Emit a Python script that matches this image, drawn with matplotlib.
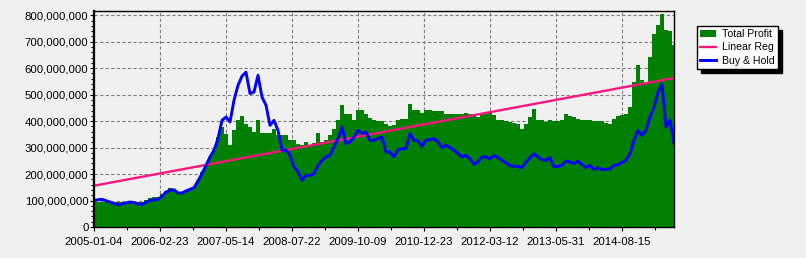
import numpy as np
import matplotlib
matplotlib.use("Agg")
import matplotlib.pyplot as plt
from matplotlib.ticker import FuncFormatter, MultipleLocator

plt.rcParams["font.family"] = ["Liberation Sans", "DejaVu Sans"]

# ---------------- data (values in millions) ----------------
tick_labels = ["2005-01-04", "2006-02-23", "2007-05-14", "2008-07-22", "2009-10-09",
               "2010-12-23", "2012-03-12", "2013-05-31", "2014-08-15"]

total_profit = [
    94.5, 94.5, 94.5, 94.5, 94.5, 94.5, 94.5, 94.5, 94.5, 94.5, 94.5, 94.5, 94.5,
    100.8, 109.6, 113.4, 113.4, 123.4, 136, 148.6, 138.5, 128.5, 132.2, 136, 141,
    151, 176, 208, 233, 264.5, 290, 340, 378, 353, 308, 365, 403, 420, 390, 378, 359,
    403, 355, 355, 355, 371, 346, 346, 346,
    330, 330, 315, 308.6, 321, 308.6, 317, 355, 321, 327.5, 346, 371.5, 403, 460, 426,
    426, 405.5, 441, 441, 428, 413, 403, 399, 399, 390,
    380, 387, 403, 407, 409, 466, 443, 441, 431, 443, 441, 438, 437, 437, 428, 428, 428,
    428, 428, 431, 426, 426, 416, 426,
    428, 434.5, 422, 405.5, 405.5, 400.5, 397, 393, 388, 369, 390, 415.6, 447, 405.5,
    405.5, 397, 403, 399, 400.5, 403, 428, 418, 416, 409, 405.5,
    405, 403, 399, 399, 399, 393, 388, 409, 418, 422, 428, 453, 548, 611, 554, 541, 642,
    730, 762, 805, 743, 740, 686,
]

buy_hold = [
    100.8, 103, 104.5, 99.5, 94.5, 88, 84.4, 86.9, 90.7, 94.5, 92, 86.9, 85.6, 93.2,
    100.8, 102, 104.5, 115.9, 132.2, 138.5, 141, 128.5, 128.5, 136, 142.3,
    148.6, 173.8, 201.5, 233, 264.5, 289.7, 333.8, 403, 415.6, 396.7, 478.6, 535, 570,
    585, 504, 510, 573, 491, 460, 384, 403, 365, 290, 290,
    271, 227, 208, 176, 195, 195, 201.5, 233, 252, 264.5, 271, 302, 334, 378, 315, 321,
    340, 365, 353, 359, 327.5, 327.5, 334, 340, 283,
    283, 264.5, 292, 296, 296, 353, 327.5, 325, 305, 327.5, 330, 334, 321, 300, 308.6,
    300, 290, 277, 264.5, 271, 258, 237, 245.6, 264.5,
    264.5, 258, 271, 262, 252, 242, 232, 229, 229, 224, 245.6, 262, 277, 264.5, 254,
    252, 262, 227, 229, 233, 249, 245.6, 239, 249, 236,
    224, 233, 217, 224, 217, 217, 220, 233, 235, 245, 252, 277, 327, 365, 346, 365, 415,
    453, 510, 539, 378, 403, 315,
]

linear_reg_ends = [156, 563]

# ---------------- layout ----------------
W, H = 806, 258
DPI = 100
bg = "#F0F0F0"
fig = plt.figure(figsize=(W / DPI, H / DPI), dpi=DPI, facecolor=bg)
ax_l, ax_r, ax_t, ax_b = 94, 674, 11, 227
ax = fig.add_axes([ax_l / W, 1 - ax_b / H, (ax_r - ax_l) / W, (ax_b - ax_t) / H])
ax.set_facecolor(bg)

fs = 8.2

days_per_tick = 290
days_per_sample = days_per_tick * 4 / 66
n = len(total_profit)
x = np.arange(n) * days_per_sample
tp = np.array(total_profit) * 1e6
bh = np.array(buy_hold) * 1e6

ax.fill_between(x, 0, tp, step="mid", color="#008000", linewidth=0, zorder=2,
                label="Total Profit")
ax.plot([x[0], x[-1]], np.array(linear_reg_ends) * 1e6, color="#FF1480", lw=1.7,
        zorder=3, label="Linear Reg")
ax.plot(x, bh, color="#0000FF", lw=2.1, zorder=4, label="Buy & Hold")

ax.set_xlim(x[0], x[-1])
ax.set_ylim(0, 816e6)

ax.set_xticks(np.arange(len(tick_labels)) * days_per_tick)
ax.set_xticklabels(tick_labels, fontsize=fs)
ax.xaxis.set_minor_locator(MultipleLocator(days_per_tick / 2))
ax.yaxis.set_major_locator(MultipleLocator(100e6))
ax.yaxis.set_minor_locator(MultipleLocator(20e6))
ax.yaxis.set_major_formatter(FuncFormatter(lambda v, p: f"{v:,.0f}"))
ax.tick_params(axis="both", which="major", length=3, width=0.8, colors="black",
               labelsize=fs, direction="out")
ax.tick_params(axis="x", which="major", pad=4)
ax.tick_params(axis="y", which="major", pad=1)
ax.tick_params(axis="both", which="minor", length=2, width=0.8, direction="out")

ax.grid(True, which="major", color="#808080", linestyle=(0, (3, 2)), linewidth=0.8,
        zorder=1)
ax.set_axisbelow(True)

for s in ax.spines.values():
    s.set_color("black")
    s.set_linewidth(1.0)
    s.set_zorder(5)
ax.spines["left"].set_linewidth(1.6)

leg = ax.legend(loc="upper left", bbox_to_anchor=(697 / W, 1 - 26 / H),
                bbox_transform=fig.transFigure, borderaxespad=0, fancybox=False,
                shadow={"ox": 3, "oy": -3, "color": "black", "alpha": 1},
                edgecolor="black", framealpha=1, facecolor="white", fontsize=7.6,
                handlelength=1.5, handleheight=0.6, handletextpad=0.55,
                labelspacing=0.3, borderpad=0.3)
leg.get_frame().set_linewidth(1.0)

fig.savefig("out.png", dpi=DPI, facecolor=bg)
